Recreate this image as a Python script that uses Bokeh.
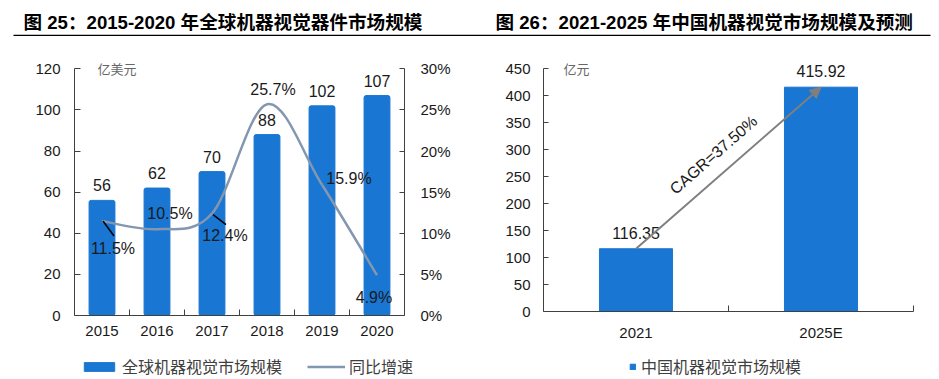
import numpy as np
from bokeh.plotting import figure
from bokeh.models import (Range1d, LinearAxis, FixedTicker, Label, BoxAnnotation,
                          Arrow, NormalHead, Legend, LegendItem)
from bokeh.layouts import row, column
from bokeh.embed import file_html
from bokeh.resources import INLINE
from bokeh.core.properties import value

# ---------------- data ----------------
years = ["2015", "2016", "2017", "2018", "2019", "2020"]
market = [56, 62, 70, 88, 102, 107]
market_labels = ["56", "62", "70", "88", "102", "107"]
growth = [11.5, 10.5, 12.4, 25.7, 15.9, 4.9]
growth_labels = ["11.5%", "10.5%", "12.4%", "25.7%", "15.9%", "4.9%"]
left_ticks = [0, 20, 40, 60, 80, 100, 120]
pct_ticks = [0, 5, 10, 15, 20, 25, 30]

cn_years = ["2021", "2025E"]
cn_market = [116.35, 415.92]
cn_labels = ["116.35", "415.92"]
cn_ticks = [0, 50, 100, 150, 200, 250, 300, 350, 400, 450]
cagr_text = "CAGR=37.50%"

title1 = "图 25：2015-2020 年全球机器视觉器件市场规模"
title2 = "图 26：2021-2025 年中国机器视觉市场规模及预测"
legend1 = ["全球机器视觉市场规模", "同比增速"]
legend2 = "中国机器视觉市场规模"
unit1 = "亿美元"
unit2 = "亿元"

# ---------------- styles ----------------
BAR = "#1976D2"
LINE = "#8497B0"
TXT = "#1a1a1a"
NUM_FONT = "Liberation Sans"
CJK_FONT = "Noto Sans CJK SC"
TITLE_FONT = "Liberation Sans, Noto Sans CJK SC"

g_dx = [11, 13, 13, 6, 27, -3]
g_dy = [28, -16, 22, -15, -6, 22]
leaders = [(0, 1, 0, 12, 15), (2, 1, 1, 14, 11)]

W1, W2 = 470, 465
TH, MH, LH = 44, 308, 26


def style_axis(ax, size="15px"):
    ax.axis_line_color = "#404040"
    ax.axis_line_width = 1
    ax.major_tick_line_color = "#404040"
    ax.minor_tick_line_color = "#404040"
    ax.major_label_text_font = NUM_FONT
    ax.major_label_text_font_size = size
    ax.major_label_text_color = TXT


def blank_fig(w, h):
    f = figure(width=w, height=h, min_border=0, x_range=Range1d(0, w), y_range=Range1d(0, h),
               x_axis_type=None, y_axis_type=None, output_backend="svg",
               toolbar_location=None, outline_line_color=None)
    f.grid.visible = False
    return f


# ================= title strip =================
pt = blank_fig(W1 + W2, TH)
pt.add_layout(Label(x=23, y=22, x_units="screen", y_units="screen", text=title1,
                    text_font=TITLE_FONT, text_font_size="18.6px", text_font_style="bold",
                    text_color="black", text_baseline="middle"))
pt.add_layout(Label(x=495, y=22, x_units="screen", y_units="screen", text=title2,
                    text_font=TITLE_FONT, text_font_size="18.6px", text_font_style="bold",
                    text_color="black", text_baseline="middle"))
pt.add_layout(BoxAnnotation(left=13, right=930, top=9.7, bottom=8.4,
                            left_units="screen", right_units="screen", top_units="screen",
                            bottom_units="screen", fill_color="black", fill_alpha=1,
                            line_color=None))

# ================= left chart =================
FW1, FH1 = 330, 259
Y1TOP = 126.0
p1 = figure(frame_width=FW1, frame_height=FH1, min_border_left=74, min_border_right=W1 - 74 - FW1,
            min_border_top=10, min_border_bottom=MH - 10 - FH1,
            x_range=Range1d(-0.5, 5.5), y_range=Range1d(0, Y1TOP),
            output_backend="svg", toolbar_location=None, outline_line_color=None)
p1.grid.visible = False
p1.extra_y_ranges = {"pct": Range1d(0, Y1TOP / 4)}

idx = list(range(len(years)))
p1.vbar(x=idx, top=market, width=0.47, fill_color=BAR, line_color=BAR, border_radius=2)
p1.text(x=idx, y=market, text=market_labels, y_offset=-15, text_align="center",
        text_baseline="middle", text_font=value(NUM_FONT), text_font_size="16px", text_color=TXT)

xs = np.array(idx, dtype=float)
ys = np.array(growth, dtype=float)
px = np.concatenate([[xs[0]], xs, [xs[-1]]])
py = np.concatenate([[ys[0]], ys, [ys[-1]]])
n = len(xs) - 1
x0 = xs[:-1]; y0 = ys[:-1]; x1 = xs[1:]; y1 = ys[1:]
cx0 = x0 + (px[2:2 + n] - px[0:n]) / 6
cy0 = y0 + (py[2:2 + n] - py[0:n]) / 6
cx1 = x1 - (px[3:3 + n] - px[1:1 + n]) / 6
cy1 = y1 - (py[3:3 + n] - py[1:1 + n]) / 6
p1.bezier(x0=x0, y0=y0, x1=x1, y1=y1, cx0=cx0, cy0=cy0, cx1=cx1, cy1=cy1,
          line_color=LINE, line_width=2.5, y_range_name="pct")

p1.text(x=idx, y=growth, text=growth_labels, x_offset=g_dx, y_offset=g_dy,
        text_align="center", text_baseline="middle", text_font=value(NUM_FONT),
        text_font_size="16px", text_color=TXT, y_range_name="pct")

ppx = FW1 / 6.0
ppy = FH1 / (Y1TOP / 4)
lx0 = [idx[i] + a / ppx for i, a, b, c, d in leaders]
ly0 = [growth[i] - b / ppy for i, a, b, c, d in leaders]
lx1 = [idx[i] + c / ppx for i, a, b, c, d in leaders]
ly1 = [growth[i] - d / ppy for i, a, b, c, d in leaders]
p1.segment(x0=lx0, y0=ly0, x1=lx1, y1=ly1, line_color="black", line_width=1.5, y_range_name="pct")

ax = p1.xaxis[0]
ax.ticker = FixedTicker(ticks=idx, minor_ticks=[0.5, 1.5, 2.5, 3.5, 4.5])
ax.major_label_overrides = {i: y for i, y in enumerate(years)}
ax.major_tick_in = 0
ax.major_tick_out = 0
ax.minor_tick_in = 6
ax.minor_tick_out = 0
ax.major_label_standoff = 10
style_axis(ax)

ay = p1.yaxis[0]
ay.ticker = FixedTicker(ticks=left_ticks)
ay.bounds = (0, 120)
ay.major_tick_in = 6
ay.major_tick_out = 0
ay.major_label_standoff = 14
style_axis(ay)
ay.minor_tick_line_color = None

ar = LinearAxis(y_range_name="pct", ticker=FixedTicker(ticks=pct_ticks), bounds=(0, 30),
                major_label_overrides={t: f"{t}%" for t in pct_ticks})
ar.major_tick_in = 5
ar.major_tick_out = 0
ar.major_label_standoff = 16
style_axis(ar)
ar.minor_tick_line_color = None
p1.add_layout(ar, "right")

p1.add_layout(Label(x=23, y=left_ticks[-1], x_units="screen", y_units="data", text=unit1,
                    text_font=CJK_FONT, text_font_size="13px", text_color="#666666",
                    text_baseline="middle"))

# ================= right chart =================
FW2, FH2 = 370, 255
Y2TOP = 472.8
p2 = figure(frame_width=FW2, frame_height=FH2, min_border_left=73, min_border_right=W2 - 73 - FW2,
            min_border_top=12, min_border_bottom=MH - 12 - FH2,
            x_range=Range1d(-0.5, 1.5), y_range=Range1d(0, Y2TOP),
            output_backend="svg", toolbar_location=None, outline_line_color=None)
p2.grid.visible = False
idx2 = list(range(len(cn_years)))
p2.vbar(x=idx2, top=cn_market, width=0.395, fill_color=BAR, line_color=BAR)
p2.text(x=idx2, y=cn_market, text=cn_labels, y_offset=-16, text_align="center",
        text_baseline="middle", text_font=value(NUM_FONT), text_font_size="16px", text_color=TXT)

p2.add_layout(Arrow(end=NormalHead(size=11, fill_color="#7F7F7F", line_color="#7F7F7F"),
                    x_start=idx2[0], y_start=cn_market[0], x_end=idx2[1], y_end=cn_market[1],
                    line_color="#7F7F7F", line_width=2))
ang = np.arctan2((cn_market[1] - cn_market[0]) * FH2 / Y2TOP, FW2 / 2.0)
p2.text(x=[(idx2[0] + idx2[1]) / 2], y=[(cn_market[0] + cn_market[1]) / 2], text=[cagr_text],
        angle=ang, x_offset=-15, y_offset=-13, text_align="center", text_baseline="middle",
        text_font=value(NUM_FONT), text_font_size="16px", text_color=TXT)

bx = p2.xaxis[0]
bx.ticker = FixedTicker(ticks=idx2, minor_ticks=[0.5, 1.5])
bx.major_label_overrides = {i: y for i, y in enumerate(cn_years)}
bx.major_tick_in = 0
bx.major_tick_out = 0
bx.minor_tick_in = 6
bx.minor_tick_out = 0
bx.major_label_standoff = 12
style_axis(bx)

by = p2.yaxis[0]
by.ticker = FixedTicker(ticks=cn_ticks)
by.bounds = (0, 450)
by.major_tick_in = 5
by.major_tick_out = 0
by.major_label_standoff = 13
style_axis(by)
by.minor_tick_line_color = None

p2.add_layout(Label(x=20, y=cn_ticks[-1], x_units="screen", y_units="data", text=unit2,
                    text_font=CJK_FONT, text_font_size="13px", text_color="#666666",
                    text_baseline="middle"))

# ================= legend strips =================
pl1 = blank_fig(W1, LH)
r_bar = pl1.vbar(x=idx, top=market, width=1, fill_color=BAR, line_color=BAR, visible=False)
r_line = pl1.line(x=idx, y=growth, line_color=LINE, line_width=2.5, visible=False)
pl1.add_layout(Legend(items=[LegendItem(label=legend1[0], renderers=[r_bar]),
                             LegendItem(label=legend1[1], renderers=[r_line])],
                      orientation="horizontal", location=(80, 0), glyph_width=38, glyph_height=11,
                      label_standoff=4, spacing=25, padding=0, margin=0, border_line_color=None,
                      background_fill_alpha=0, label_text_font=CJK_FONT, label_text_font_size="16px",
                      label_text_color="#404040", label_height=16))

pl2 = blank_fig(W2, LH)
r_bar2 = pl2.vbar(x=idx2, top=cn_market, width=1, fill_color=BAR, line_color=BAR, visible=False)
pl2.add_layout(Legend(items=[LegendItem(label=legend2, renderers=[r_bar2])],
                      orientation="horizontal", location=(159, 0), glyph_width=7, glyph_height=7,
                      label_standoff=5, padding=0, margin=0, border_line_color=None,
                      background_fill_alpha=0, label_text_font=CJK_FONT, label_text_font_size="16px",
                      label_text_color="#404040", label_height=16))

layout = column(pt, row(p1, p2), row(pl1, pl2))
open("out.html", "w").write(file_html(layout, INLINE))
